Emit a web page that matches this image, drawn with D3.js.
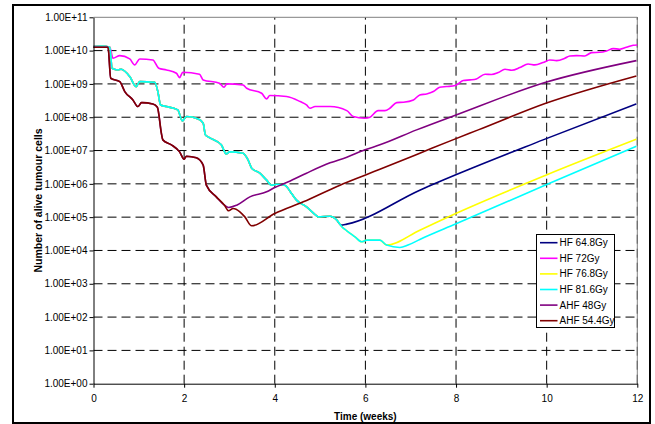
<!DOCTYPE html>
<html>
<head>
<meta charset="utf-8">
<script src="https://cdnjs.cloudflare.com/ajax/libs/d3/7.8.5/d3.min.js"></script>
<style>
  body { margin: 0; background: #fff; }
  svg { display: block; font-family: "Liberation Sans", Arial, sans-serif; }
  .axis text { font-size: 10px; fill: #000; }
  .axis path, .axis line { stroke: #000; }
  .grid line { stroke: #000; stroke-dasharray: 9,5; }
</style>
</head>
<body>
<div class="chart-container"></div>
<script>
// Data: [time (weeks), number of alive tumour cells]
// HF schedules share the same decline until the treatment stops
const hfDecline = [
    [0, 1.32e10], [0.17, 1.38e10], [0.36, 1.26e10], [0.41, 2.95e9], [0.54, 2.63e9],
    [0.61, 2.75e9], [0.80, 1.66e9], [0.94, 8.32e8], [1.02, 1.17e9], [1.35, 1.12e9],
    [1.42, 5.89e8], [1.48, 2.34e8], [1.61, 2.09e8], [1.86, 1.66e8], [1.96, 7.76e7],
    [2.05, 1.05e8], [2.31, 8.91e7], [2.42, 6.61e7], [2.47, 2.95e7], [2.53, 2.57e7],
    [2.82, 1.48e7], [2.93, 7.94e6], [3.00, 9.12e6], [3.30, 8.32e6], [3.41, 5.25e6],
    [3.49, 2.95e6], [3.67, 2.09e6], [3.82, 1.29e6], [3.93, 9.12e5], [4.04, 9.77e5],
    [4.22, 9.12e5], [4.37, 5.13e5], [4.48, 3.24e5], [4.70, 2.04e5], [4.89, 1.20e5],
    [4.96, 1.02e5], [5.22, 1.07e5], [5.37, 8.13e4]
];
const hfLateDecline = [
    [5.48, 5.13e4], [5.59, 3.89e4], [5.77, 2.57e4], [5.92, 1.82e4], [6.03, 2.04e4],
    [6.32, 2.04e4], [6.47, 1.45e4]
];
const hf648Regrowth = [
    [5.46, 5.75e4], [5.59, 6.17e4], [7.20, 6.46e5], [9.92, 2.09e7], [11.98, 2.51e8]
];
const hf768Regrowth = [
    [7.20, 4.07e4], [7.86, 1.07e5], [9.98, 1.82e6], [11.98, 2.19e7]
];
const hf816Regrowth = [
    [6.76, 1.23e4], [6.94, 1.45e4], [7.20, 2.14e4], [8.00, 6.31e4], [10.00, 9.55e5],
    [11.98, 1.35e7]
];
const hf72 = [
    [0, 1.32e10], [0.17, 1.38e10], [0.36, 1.26e10], [0.43, 5.89e9], [0.58, 7.08e9],
    [0.80, 5.62e9], [0.91, 3.72e9], [1.02, 5.62e9], [1.31, 5.25e9], [1.44, 2.95e9],
    [1.61, 2.63e9], [1.83, 2.09e9], [1.90, 1.55e9], [1.97, 2.24e9], [2.34, 1.95e9],
    [2.42, 1.32e9], [2.78, 1.05e9], [2.88, 7.94e8], [2.94, 1.00e9], [3.30, 9.33e8],
    [3.38, 7.41e8], [3.71, 5.25e8], [3.82, 3.55e8], [3.89, 4.47e8], [4.26, 4.17e8],
    [4.56, 2.95e8], [4.70, 2.34e8], [4.78, 1.86e8], [4.89, 2.09e8], [5.22, 2.09e8],
    [5.59, 1.58e8], [5.73, 1.05e8], [5.99, 9.33e7], [6.10, 1.00e8], [6.28, 1.58e8],
    [6.43, 1.58e8], [6.54, 1.86e8], [6.69, 2.75e8], [6.84, 2.82e8], [7.06, 3.31e8],
    [7.20, 4.68e8], [7.35, 5.01e8], [7.50, 5.89e8], [7.64, 7.94e8], [7.79, 8.32e8],
    [7.98, 8.91e8], [8.16, 1.26e9], [8.31, 1.32e9], [8.45, 1.41e9], [8.64, 1.95e9],
    [8.78, 1.91e9], [8.93, 2.19e9], [9.08, 2.75e9], [9.23, 2.57e9], [9.41, 3.09e9],
    [9.59, 3.98e9], [9.74, 3.72e9], [9.92, 4.37e9], [10.07, 5.25e9], [10.22, 5.01e9],
    [10.40, 5.89e9], [10.51, 6.92e9], [10.66, 7.08e9], [10.84, 6.92e9], [10.99, 8.71e9],
    [11.17, 8.91e9], [11.32, 9.77e9], [11.47, 1.15e10], [11.61, 1.10e10], [11.76, 1.26e10],
    [11.91, 1.45e10], [12.00, 1.48e10]
];
// AHF schedules share the same decline until 48Gy stops
const ahfDecline = [
    [0, 1.26e10], [0.32, 1.26e10], [0.38, 1.48e9], [0.58, 1.17e9], [0.69, 5.89e8],
    [0.87, 3.31e8], [0.98, 2.09e8], [1.06, 2.75e8], [1.31, 2.51e8], [1.41, 2.00e8],
    [1.50, 3.16e7], [1.53, 2.09e7], [1.72, 1.48e7], [1.90, 9.12e6], [2.00, 5.50e6],
    [2.05, 6.76e6], [2.27, 6.03e6], [2.42, 3.63e6], [2.49, 9.12e5], [2.71, 4.07e5],
    [2.89, 2.29e5]
];
const ahf48Regrowth = [
    [2.98, 1.95e5], [3.16, 2.29e5], [3.45, 4.07e5], [3.82, 5.75e5], [4.00, 7.76e5],
    [4.30, 1.15e6], [4.70, 2.09e6], [5.22, 4.27e6], [5.59, 6.31e6], [5.99, 1.05e7],
    [6.32, 1.48e7], [7.13, 4.17e7], [8.00, 1.17e8], [9.98, 1.12e9], [11.98, 5.01e9]
];
const ahf544Tail = [
    [2.98, 1.55e5], [3.08, 1.82e5], [3.23, 1.45e5], [3.34, 1.02e5], [3.49, 5.50e4],
    [4.00, 1.29e5], [4.63, 2.88e5], [5.44, 9.12e5], [5.99, 1.82e6], [6.32, 2.75e6],
    [7.20, 8.32e6], [7.93, 2.09e7], [8.49, 4.17e7], [9.98, 2.63e8], [11.98, 1.74e9]
];

const seriesNames = ['HF 64.8Gy', 'HF 72Gy', 'HF 76.8Gy', 'HF 81.6Gy', 'AHF 48Gy', 'AHF 54.4Gy'];
const seriesColors = ['#000080', '#ff00ff', '#ffff00', '#00ffff', '#800080', '#800000'];
const xTicks = [0, 2, 4, 6, 8, 10, 12];
const yTicks = [1e0, 1e1, 1e2, 1e3, 1e4, 1e5, 1e6, 1e7, 1e8, 1e9, 1e10, 1e11];

// Draw utilities
function formatTicks(d) {
    const e = Math.round(Math.log10(d));
    return '1.00E+' + (e < 10 ? '0' + e : e);
}

// Main function
function ready() {

    const series = [
        hfDecline.concat(hf648Regrowth),
        hf72,
        hfDecline.concat(hfLateDecline, hf768Regrowth),
        hfDecline.concat(hfLateDecline, hf816Regrowth),
        ahfDecline.concat(ahf48Regrowth),
        ahfDecline.concat(ahf544Tail)
    ];

    const width = 655;
    const height = 424;
    const plot = {left: 93.5, right: 637.3, top: 17.3, bottom: 383.7};

    // Scales
    const xScale = d3.scaleLinear().domain([0, 12]).range([plot.left, plot.right]);
    const yScale = d3.scaleLog().domain([1, 1e11]).range([plot.bottom, plot.top]);

    // Draw base
    const svg = d3.select('.chart-container')
        .append('svg')
        .attr('width', width)
        .attr('height', height);

    svg.append('rect')
        .attr('x', 13).attr('y', 5)
        .attr('width', 637).attr('height', 418)
        .style('fill', '#fff')
        .style('stroke', '#000')
        .style('stroke-width', 2);

    // Grid
    const grid = svg.append('g').attr('class', 'grid');

    grid.selectAll('.hgrid')
        .data(yTicks.filter(d => d > 1 && d < 1e11))
        .enter()
        .append('line')
        .attr('x1', plot.left).attr('x2', plot.right)
        .attr('y1', d => yScale(d)).attr('y2', d => yScale(d));

    grid.selectAll('.vgrid')
        .data(xTicks.filter(d => d > 0))
        .enter()
        .append('line')
        .attr('x1', d => xScale(d)).attr('x2', d => xScale(d))
        .attr('y1', plot.bottom).attr('y2', plot.top);

    // plot area border (top and right)
    svg.append('path')
        .attr('d', `M${plot.left},${plot.top}H${plot.right}V${plot.bottom}`)
        .style('fill', 'none')
        .style('stroke', '#808080');

    // Draw lines
    const line = d3.line()
        .x(d => xScale(d[0]))
        .y(d => yScale(d[1]))
        .curve(d3.curveMonotoneX);

    svg.append('g')
        .attr('class', 'series')
        .selectAll('path')
        .data(series)
        .enter()
        .append('path')
        .attr('d', line)
        .style('fill', 'none')
        .style('stroke', (d, i) => seriesColors[i])
        .style('stroke-width', 1.6)
        .style('stroke-linejoin', 'round');

    // Draw axes
    const xAxis = d3.axisBottom(xScale)
        .tickValues(xTicks)
        .tickSizeInner(4)
        .tickSizeOuter(0)
        .tickPadding(7);

    svg.append('g')
        .attr('class', 'x axis')
        .attr('transform', `translate(0, ${plot.bottom})`)
        .call(xAxis);

    const yAxis = d3.axisLeft(yScale)
        .tickValues(yTicks)
        .tickFormat(formatTicks)
        .tickSizeInner(4)
        .tickSizeOuter(0)
        .tickPadding(2);

    svg.append('g')
        .attr('class', 'y axis')
        .attr('transform', `translate(${plot.left}, 0)`)
        .call(yAxis);

    // Axis titles
    svg.append('text')
        .attr('transform', `translate(41.5, ${(plot.top + plot.bottom) / 2}) rotate(-90)`)
        .attr('text-anchor', 'middle')
        .style('font-size', '10.5px')
        .style('font-weight', 'bold')
        .text('Number of alive tumour cells');

    svg.append('text')
        .attr('x', (plot.left + plot.right) / 2)
        .attr('y', 420)
        .attr('text-anchor', 'middle')
        .style('font-size', '10px')
        .style('font-weight', 'bold')
        .text('Time (weeks)');

    // Legend
    const legend = svg.append('g')
        .attr('class', 'legend')
        .attr('transform', 'translate(536.5, 234.5)');

    legend.append('rect')
        .attr('width', 78)
        .attr('height', 93)
        .style('fill', '#fff')
        .style('stroke', '#000');

    const items = legend.selectAll('.item')
        .data(seriesNames)
        .enter()
        .append('g')
        .attr('class', 'item')
        .attr('transform', (d, i) => `translate(0, ${8.2 + i * 15.6})`);

    items.append('line')
        .attr('x1', 3.5).attr('x2', 21)
        .style('stroke', (d, i) => seriesColors[i])
        .style('stroke-width', 1.6);

    items.append('text')
        .attr('x', 23)
        .attr('dy', '0.35em')
        .style('font-size', '10px')
        .text(d => d);
}

ready();
</script>
</body>
</html>
